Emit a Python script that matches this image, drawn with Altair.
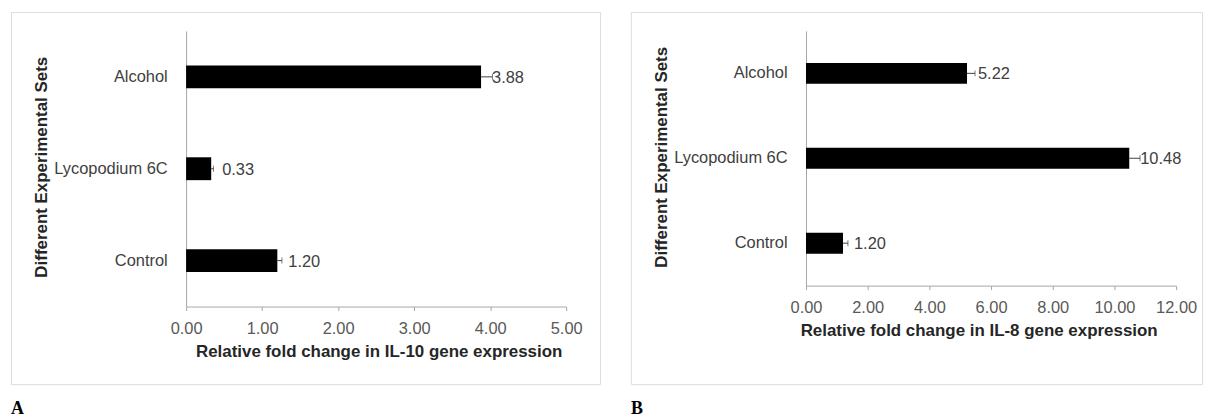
import altair as alt
import pandas as pd

categories = ["Alcohol", "Lycopodium 6C", "Control"]
il10_values = [3.88, 0.33, 1.20]
il10_errors = [0.15, 0.03, 0.06]
il8_values = [5.22, 10.48, 1.20]
il8_errors = [0.26, 0.35, 0.16]
il10_ticks = [0, 1, 2, 3, 4, 5]
il8_ticks = [0, 2, 4, 6, 8, 10, 12]

FONT = "Liberation Sans"


def panel(values, errors, ticks, xrange_, yrange_, bar_size, w, h, axis_y,
          xtitle, xtitle_x, ytitle_y, letter):
    df = pd.DataFrame({
        "cat": categories,
        "val": values,
        "hi": [v + e for v, e in zip(values, errors)],
    })

    def xenc(field):
        return alt.X(
            f"{field}:Q",
            scale=alt.Scale(domain=[ticks[0], ticks[-1]], range=xrange_, nice=False, zero=True),
            axis=alt.Axis(
                values=ticks, format=".2f", orient="bottom", offset=-(h - axis_y),
                domainColor="#a6a6a6", tickColor="#a6a6a6", tickSize=4,
                labelPadding=10, labelFontSize=16.5, labelColor="#595959", labelFont=FONT,
                labelFlush=False, labelOverlap=False, grid=False,
                title=xtitle, titleFontSize=17, titleFontWeight="bold", titleColor="#262626",
                titleFont=FONT, titleX=xtitle_x, titleY=50, titleBaseline="alphabetic",
                titleAlign="center",
            ),
        )

    yenc = alt.Y(
        "cat:N", sort=categories,
        scale=alt.Scale(range=yrange_, paddingInner=0, paddingOuter=0),
        axis=alt.Axis(
            orient="left", offset=-xrange_[0], domainColor="#a6a6a6",
            ticks=False, tickSize=0, labelPadding=19, labelFontSize=16.5,
            labelColor="#404040", labelFont=FONT, grid=False,
            title="Different Experimental Sets", titleFontSize=17, titleFontWeight="bold",
            titleColor="#262626", titleFont=FONT, titleX=-145, titleY=ytitle_y,
            titleBaseline="middle", titleAngle=270, titleAlign="center",
        ),
    )

    base = alt.Chart(df)
    bars = base.mark_bar(color="black", size=bar_size).encode(x=xenc("val"), y=yenc)
    rule = base.mark_rule(color="#404040", strokeWidth=1).encode(
        x=xenc("val"), x2="hi:Q", y=yenc)
    cap = base.mark_tick(color="#404040", thickness=1, size=6).encode(x=xenc("hi"), y=yenc)
    text = base.mark_text(align="left", baseline="middle", dx=11, dy=1, fontSize=16.5,
                          color="#404040", font=FONT).encode(
        x=xenc("val"), y=yenc, text=alt.Text("val:Q", format=".2f"))

    return alt.layer(bars, rule, cap, text).properties(
        width=w, height=h,
        title=alt.TitleParams(letter, orient="bottom", anchor="start", font="Liberation Serif",
                              fontSize=18, fontWeight="bold", color="#000000", offset=16),
    )


pa = panel(il10_values, il10_errors, il10_ticks, [176, 558], [19, 296], 23, 592, 374, 296,
           "Relative fold change in IL-10 gene expression", 369.5, 155.5, "A")
pb = panel(il8_values, il8_errors, il8_ticks, [176, 548], [19, 275], 21, 574, 374, 275,
           "Relative fold change in IL-8 gene expression", 349.5, 145.5, "B")

chart = alt.hconcat(pa, pb, spacing=29).properties(
    padding={"left": 2, "top": 2, "right": 2, "bottom": 0}
).configure_view(stroke="#c0c0c0", strokeWidth=1).configure(font=FONT)

chart.save("out.html", embed_options={"renderer": "svg", "actions": False})
